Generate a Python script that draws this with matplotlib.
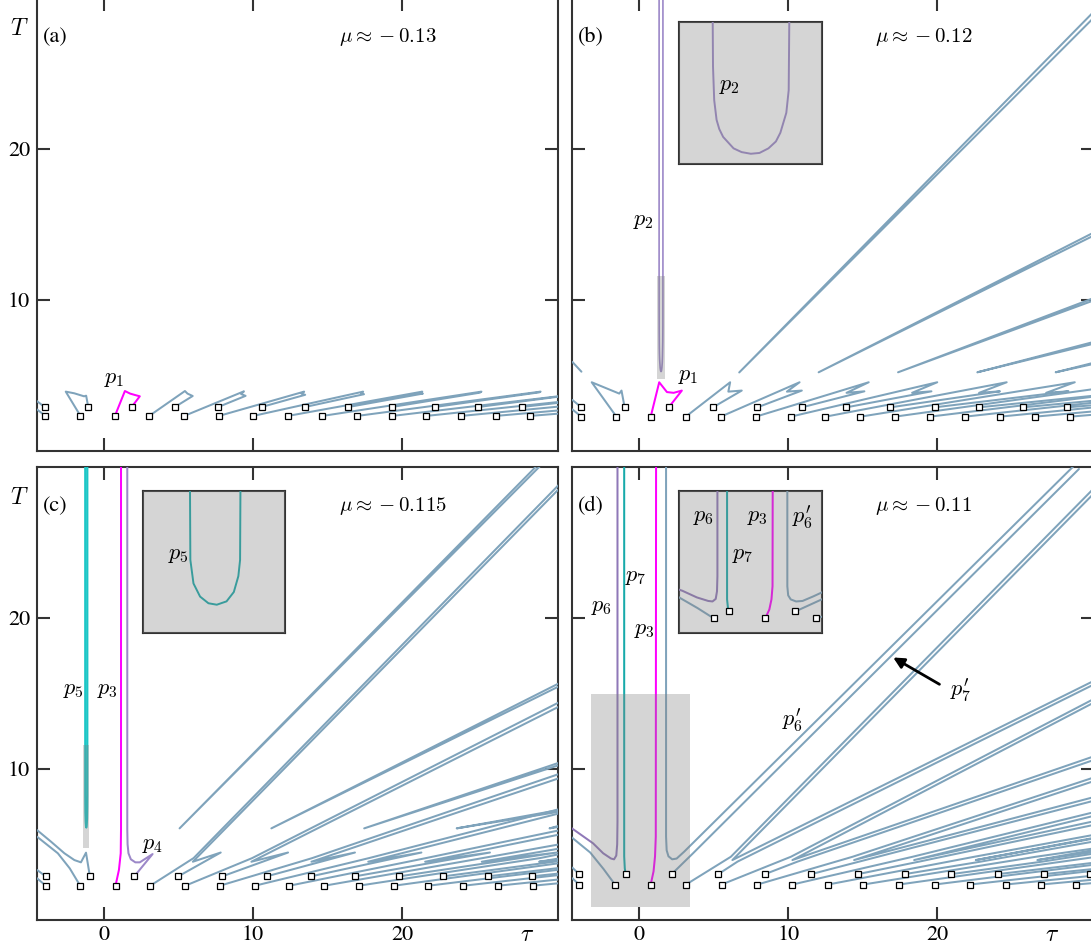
import matplotlib
matplotlib.use('Agg')
import matplotlib.pyplot as plt
import matplotlib.transforms as mtrans
from matplotlib.patches import Rectangle

plt.rcParams['font.family'] = 'STIXGeneral'
plt.rcParams['mathtext.fontset'] = 'cm'

BLUE = '#7fa3bb'
MAGENTA = '#ff00ff'
PURPLE = '#9c88c8'
CYAN = '#1cc6c6'
TEAL = '#17aaaa'
fonte = 16
LW = 1.45

# ---------------- panel (a), mu ~ -0.13 ----------------
a_lowT, a_upT = 2.32, 2.91
a_lower = [-3.93, -1.58, 0.73, 3.03, 5.38, 7.71, 10.01, 12.34, 14.66, 16.99, 19.34, 21.62, 23.97, 26.28, 28.58]
a_upper = [-3.99, -1.06, 1.85, 4.75, 7.66, 10.57, 13.48, 16.39, 19.30, 22.20, 25.11, 28.02, 30.93, 33.84, 36.75]
# inner points of each branch lower[i] -> ... -> upper[i], i = 1..14
a_mid = [
    [(-2.57, 3.93), (-2.0, 3.82), (-1.34, 3.62), (-1.2, 3.66)],
    [(1.4, 3.97), (1.75, 3.8), (2.1, 3.7), (2.4, 3.62)],
    [(5.43, 3.97), (5.6, 3.8), (5.95, 3.64)],
    [(9.39, 3.95), (9.2, 3.77), (9.5, 3.65)],
    [(13.43, 3.93), (13.25, 3.8), (13.5, 3.72)],
    [(17.39, 3.93), (17.25, 3.82), (17.45, 3.76)],
    [(21.36, 3.93), (21.22, 3.84), (21.4, 3.8)],
    [(25.33, 3.93), (25.22, 3.86)],
    [(29.3, 3.93), (29.2, 3.88)],
    [(33.3, 3.95)],
    [(37.3, 3.95)],
    [(41.2, 3.95)],
    [(45.2, 3.95)],
    [(49.2, 3.95)],
]
a_edge = [[(-4.5, 3.3), (-3.99, 2.91)], [(-4.5, 2.75), (-3.93, 2.32)]]

# ---------------- panel (b), mu ~ -0.12 ----------------
b_lowT, b_upT = 2.27, 2.89
b_lower = [-3.89, -1.54, 0.76, 3.11, 5.46, 7.81, 10.15, 12.48, 14.83, 17.13, 19.48, 21.83, 24.18, 26.53, 28.88]
b_upper = [-3.89, -0.99, 1.97, 4.94, 7.92, 10.91, 13.89, 16.85, 19.82, 22.79, 25.74, 28.72, 31.7, 34.7, 37.7]
b_mid = [
    [(-3.2, 4.55), (-1.35, 3.8), (-1.2, 4.0)],
    [(1.33, 4.55), (1.85, 3.9), (2.3, 3.85), (2.85, 4.0)],
    [(6.09, 4.55), (5.97, 3.93), (6.87, 4.0)],
    [(10.75, 4.55), (9.9, 3.93), (10.9, 4.0)],
    [(15.39, 4.55), (13.9, 3.85), (15.1, 3.95)],
    [(19.99, 4.55), (18.3, 3.85), (19.6, 3.95)],
    [(24.65, 4.55), (22.8, 3.85), (24.2, 3.95)],
    [(29.22, 4.55), (27.3, 3.85), (28.8, 3.95)],
    [(33.8, 4.55), (31.7, 3.85), (33.4, 3.95)],
    [(38.4, 4.55), (36.1, 3.85)],
    [(43.0, 4.55), (40.5, 3.85)],
    [(47.6, 4.55)],
    [(52.2, 4.55)],
    [(56.8, 4.55)],
]
b_edge = [[(-4.5, 3.38), (-3.89, 2.89)], [(-4.5, 2.75), (-3.89, 2.27)], [(-4.5, 5.9), (-3.89, 5.25)]]
b_ray_start = [(6.7, 5.2), (12.03, 5.21), (17.36, 5.21), (22.68, 5.21), (27.94, 5.21)]
b_ray_end = [(30.6, 29.0), (30.6, 14.42), (30.6, 10.09), (30.6, 7.19), (30.6, 5.83)]
b_ray_gap = [0.2, 0.1, 0.08, 0.06, 0.04]
p2 = [(1.323, 30), (1.323, 11.6), (1.324, 9.45), (1.328, 7.84), (1.336, 6.89), (1.345, 6.45),
      (1.358, 6.07), (1.393, 5.52), (1.42, 5.34), (1.451, 5.26), (1.48, 5.3), (1.51, 5.52),
      (1.535, 5.85), (1.55, 6.27), (1.57, 7.23), (1.578, 8.32), (1.58, 11.6), (1.58, 30)]
b_zoom = [(1.21, 1.69), (4.77, 11.6)]

# ---------------- panel (c), mu ~ -0.115 ----------------
c_lowT, c_upT = 2.25, 2.87
c_lower = [-3.91, -1.6, 0.77, 3.1, 5.45, 7.77, 10.12, 12.43, 14.78, 17.08, 19.45, 21.76, 24.11, 26.43, 28.76]
c_upper = [-3.91, -0.95, 2.03, 4.98, 7.93, 10.91, 13.88, 16.83, 19.81, 22.77, 25.74, 28.71, 31.7, 34.6, 37.6]
c_tip = [5.96, 9.89, 13.92, 17.73, 21.55, 25.35, 29.2, 33.0, 36.8, 40.6, 44.4, 48.2]     # folds i = 3..14
c_hook = [7.83, 12.35, 16.84, 21.3, 25.9, 30.4, 34.9, 39.4, 43.9, 48.4, 52.9, 57.4]
c_far = [28.5, 14.1, 9.36, 7.03, 5.63, 4.7, 4.05]
c_ray_start = [(5.07, 6.05), (11.23, 6.05), (17.46, 6.05), (23.67, 6.05), (29.9, 6.05)]
c_ray_end = [(29.3, 30.2), (30.6, 15.59), (30.6, 10.34), (30.6, 7.22), (30.6, 6.2)]
c_ray_gap = [0.12, 0.1, 0.08, 0.06, 0.04]
c_edge = [[(-4.5, 3.3), (-3.91, 2.87)], [(-4.5, 2.75), (-3.91, 2.25)],
          [(-4.5, 5.94), (-3.56, 5.17), (-2.66, 4.4), (-1.99, 3.95), (-1.55, 3.8), (-1.21, 4.44), (-0.95, 2.87)],
          [(-4.5, 5.5), (-3.1, 4.4), (-2.3, 3.4), (-1.6, 2.25)]]
c_p3 = [(0.77, 2.25), (1.0, 3.3), (1.12, 4.4), (1.14, 6.0), (1.14, 30)]
c_p4 = [(1.56, 30), (1.56, 6.0), (1.58, 5.0), (1.64, 4.4), (1.8, 4.0), (2.1, 3.8), (2.4, 3.8), (3.26, 4.35), (2.03, 2.87)]
p5 = [(-1.264, 30), (-1.264, 11.57), (-1.263, 8.25), (-1.254, 7.12), (-1.235, 6.49), (-1.211, 6.17),
      (-1.187, 6.10), (-1.159, 6.26), (-1.138, 6.71), (-1.125, 7.47), (-1.12, 8.25), (-1.119, 11.57), (-1.119, 30)]
c_zoom = [(-1.40, -0.99), (4.73, 11.57)]

# ---------------- panel (d), mu ~ -0.11 ----------------
d_lowT, d_upT = 2.33, 3.02
d_lower = [-4.05, -1.64, 0.76, 3.13, 5.52, 7.92, 10.27, 12.66, 15.03, 17.42, 19.81, 22.19, 24.58, 26.95, 29.3]
d_upper = [-4.05, -0.92, 2.17, 5.3, 8.43, 11.54, 14.67, 17.81, 20.94, 24.07, 27.15, 30.22, 33.3, 36.4]
d_tip = [6.24, 10.27, 14.41, 18.44, 22.58, 26.71, 30.8, 34.9, 39.0, 43.1, 47.2, 51.3]   # tips i = 3..14
d_arm_up = [28.4, 14.5, 9.3, 7.0, 5.5, 4.6]     # T at the right edge, steeper arm of each tip
d_arm_low = [15.7, 10.7, 8.0, 6.4, 5.3, 4.5]    # T at the right edge, flatter arm
d_edge = [[(-4.5, 3.45), (-4.05, 3.02)], [(-4.5, 2.75), (-4.05, 2.33)],
          [(-4.6, 5.5), (-3.3, 4.45), (-2.4, 3.35), (-1.64, 2.33)]]
d_p6 = [(-4.6, 6.1), (-3.11, 5.06), (-2.43, 4.4), (-1.9, 4.05), (-1.7, 4.0), (-1.55, 4.25),
        (-1.49, 5.0), (-1.47, 6.5), (-1.47, 30)]
d_p7 = [(-1.02, 30), (-1.02, 4.2), (-0.98, 3.4), (-0.92, 3.02)]
d_p3 = [(1.12, 30), (1.1, 5.5), (1.05, 4.2), (0.95, 3.2), (0.76, 2.33)]
d_p6b = [(1.79, 30), (1.79, 5.5), (1.83, 4.6), (1.95, 4.2), (2.2, 4.0), (2.5, 4.05), (3.0, 4.5), (29.1, 30.0)]
d_up2 = [(2.17, 3.02), (3.6, 4.4), (29.5, 29.85)]
d_zoom = [(-3.26, 3.39), (0.86, 14.93)]


def linha(ax, pts, cor=BLUE, lw=LW, z=3):
    t = [p[0] for p in pts]
    T = [p[1] for p in pts]
    ax.plot(t, T, color=cor, lw=lw, zorder=z, solid_joinstyle='round', solid_capstyle='round')


def marcadores(ax, lower, lowT, upper, upT):
    for xs, y in ((lower, lowT), (upper, upT)):
        ax.plot(xs, [y] * len(xs), 's', ms=4, mfc='white', mec='black', mew=0.9, zorder=7)


def ramos(ax, lower, lowT, upper, upT, mids):
    # each branch leaves lower[i], turns and comes back to upper[i]
    for k, mid in enumerate(mids):
        i = k + 1
        pts = [(lower[i], lowT)] + mid + [(upper[i], upT)]
        linha(ax, pts, MAGENTA if i == 2 else BLUE)


def raios(ax, starts, ends, gaps):
    for s, e, g in zip(starts, ends, gaps):
        linha(ax, [(e[0], e[1] + g), s, (e[0], e[1] - g)])


def dobras(ax, lower, lowT, upper, upT, first, tips, tipT, hooks, hookT, fars, xr):
    for k, tip in enumerate(tips):
        i = first + k
        far = fars[k] if k < len(fars) else None
        outer = [(lower[i], lowT), (tip + 0.05, tipT + 0.24)]
        inner = [(tip, tipT)]
        if far is not None:
            outer.append((xr, far + 0.28))
            inner.insert(0, (xr, far))
        inner.append((hooks[k], hookT))
        if i < len(upper):
            inner.append((upper[i], upT))
        linha(ax, outer)
        linha(ax, inner)


def garfos(ax, lower, lowT, upper, upT, first, tips, tipT, ups, lows, xr):
    # "<" shaped tips: a steep double arm and a flatter double arm
    for k, tip in enumerate(tips):
        i = first + k
        if k < len(ups):
            g_up = 0.17 if k == 0 else 0.12
            g_low = 0.12
            linha(ax, [(lower[i], lowT), (tip - 0.1, tipT + 0.22), (xr, ups[k] + g_up)])
            linha(ax, [(xr, ups[k] - g_up), (tip, tipT), (xr, lows[k] + g_low)])
            linha(ax, [(upper[i], upT), (tip + 0.35, tipT - 0.1), (xr, lows[k] - g_low)])
        else:
            linha(ax, [(lower[i], lowT), (tip - 0.1, tipT + 0.22)])
            if i < len(upper):
                linha(ax, [(upper[i], upT), (tip + 0.35, tipT - 0.1)])


def sombra(ax, zoom):
    (x0, x1), (y0, y1) = zoom
    ax.add_patch(Rectangle((x0, y0), x1 - x0, y1 - y0, facecolor='gray', alpha=0.33, lw=0, zorder=5))


def desenha_a(ax):
    for e in a_edge:
        linha(ax, e)
    ramos(ax, a_lower, a_lowT, a_upper, a_upT, a_mid)
    marcadores(ax, a_lower, a_lowT, a_upper, a_upT)


def desenha_b(ax):
    for e in b_edge:
        linha(ax, e)
    ramos(ax, b_lower, b_lowT, b_upper, b_upT, b_mid)
    raios(ax, b_ray_start, b_ray_end, b_ray_gap)
    linha(ax, p2, PURPLE, lw=1.2)
    marcadores(ax, b_lower, b_lowT, b_upper, b_upT)


def desenha_c(ax):
    for e in c_edge:
        linha(ax, e)
    dobras(ax, c_lower, c_lowT, c_upper, c_upT, 3, c_tip, 3.84, c_hook, 4.45, c_far, 30.5)
    raios(ax, c_ray_start, c_ray_end, c_ray_gap)
    linha(ax, c_p4, PURPLE)
    linha(ax, c_p3, MAGENTA)
    linha(ax, p5, CYAN, lw=1.5)
    marcadores(ax, c_lower, c_lowT, c_upper, c_upT)


def desenha_d(ax):
    for e in d_edge:
        linha(ax, e)
    garfos(ax, d_lower, d_lowT, d_upper, d_upT, 3, d_tip, 3.95, d_arm_up, d_arm_low, 30.5)
    linha(ax, d_p6b)
    linha(ax, d_up2)
    linha(ax, d_p6, '#8f78b8')
    linha(ax, d_p3, MAGENTA)
    linha(ax, d_p7, TEAL)
    marcadores(ax, d_lower, d_lowT, d_upper, d_upT)


def eixo(fig, rect, left, bottom):
    ax = fig.add_axes(rect)
    ax.set_xlim(-4.5, 30.5)
    ax.set_ylim(0, 30)
    ax.set_xticks([0, 10, 20])
    ax.set_yticks([10, 20])
    ax.tick_params(direction='in', length=9.5, width=1.5, top=True, right=True,
                   labelsize=fonte, color='#333333', pad=4)
    ax.tick_params(axis='y', pad=5)
    if not left:
        ax.set_yticklabels([])
    if not bottom:
        ax.set_xticklabels([])
    for s in ax.spines.values():
        s.set_linewidth(1.5)
        s.set_color('#333333')
    if left:
        ax.text(-0.033, 0.93, '$T$', transform=ax.transAxes, ha='center', va='center', fontsize=17)
    return ax


def inset(fig, rect, zoom):
    ins = fig.add_axes(rect)
    ins.set_xlim(*zoom[0])
    ins.set_ylim(*zoom[1])
    ins.set_xticks([])
    ins.set_yticks([])
    for s in ins.spines.values():
        s.set_linewidth(1.5)
        s.set_color('#333333')
    ins.add_patch(Rectangle((0, 0), 1, 1, transform=ins.transAxes, facecolor='gray',
                            alpha=0.33, lw=0, zorder=5))
    return ins


def rotulo(ax, letra, mu):
    ax.text(0.0115, 0.913, letra, transform=ax.transAxes, ha='left', va='center', fontsize=fonte)
    ax.text(0.58, 0.913, mu, transform=ax.transAxes, ha='left', va='center', fontsize=15)


fig = plt.figure(figsize=(10.91, 9.51), dpi=100)
W, H = 0.478, 0.4763

ax_a = eixo(fig, [0.0339, 0.5258, W, H], True, False)
ax_b = eixo(fig, [0.5246, 0.5258, W, H], False, False)
ax_c = eixo(fig, [0.0339, 0.0329, W, H], True, True)
ax_d = eixo(fig, [0.5246, 0.0329, W, H], False, True)

desenha_a(ax_a)
rotulo(ax_a, '(a)', r'$\mu \approx -0.13$')
ax_a.text(0.0, 4.75, '$p_1$', fontsize=fonte, ha='left', va='center', zorder=8)

desenha_b(ax_b)
sombra(ax_b, b_zoom)
rotulo(ax_b, '(b)', r'$\mu \approx -0.12$')
ax_b.text(2.57, 4.95, '$p_1$', fontsize=fonte, ha='left', va='center', zorder=8)
ax_b.text(-0.45, 15.2, '$p_2$', fontsize=fonte, ha='left', va='center', zorder=8)

desenha_c(ax_c)
sombra(ax_c, c_zoom)
rotulo(ax_c, '(c)', r'$\mu \approx -0.115$')
ax_c.text(-2.78, 15.2, '$p_5$', fontsize=fonte, ha='left', va='center', zorder=8)
ax_c.text(-0.46, 15.2, '$p_3$', fontsize=fonte, ha='left', va='center', zorder=8)
ax_c.text(2.56, 4.95, '$p_4$', fontsize=fonte, ha='left', va='center', zorder=8)

desenha_d(ax_d)
sombra(ax_d, d_zoom)
rotulo(ax_d, '(d)', r'$\mu \approx -0.11$')
ax_d.text(-0.99, 22.7, '$p_7$', fontsize=fonte, ha='left', va='center', zorder=8)
ax_d.text(-3.22, 20.7, '$p_6$', fontsize=fonte, ha='left', va='center', zorder=8)
ax_d.text(-0.38, 19.2, '$p_3$', fontsize=fonte, ha='left', va='center', zorder=8)
ax_d.text(9.6, 13.2, "$p_6'$", fontsize=fonte, ha='left', va='center', zorder=8)
ax_d.text(20.85, 15.2, "$p_7'$", fontsize=fonte, ha='left', va='center', zorder=8)
ax_d.annotate('', xy=(16.87, 17.46), xytext=(20.3, 15.5),
              arrowprops=dict(arrowstyle='-|>', color='black', lw=2, mutation_scale=16), zorder=8)

for ax, xt in ((ax_c, 28.36), (ax_d, 27.7)):
    tr = mtrans.blended_transform_factory(ax.transData, ax.transAxes)
    ax.text(xt, -0.035, r'$\tau$', transform=tr, ha='center', va='center', fontsize=17)

# insets (zoom of the gray rectangles)
ins_b = inset(fig, [0.6224, 0.8276, 0.1311, 0.1493], b_zoom)
linha(ins_b, p2, PURPLE, lw=1.4)
ins_b.text(0.28, 0.55, '$p_2$', transform=ins_b.transAxes, fontsize=fonte, va='center', zorder=8)

ins_c = inset(fig, [0.1308, 0.3341, 0.1307, 0.1499], c_zoom)
linha(ins_c, p5, TEAL, lw=1.4)
ins_c.text(0.18, 0.55, '$p_5$', transform=ins_c.transAxes, fontsize=fonte, va='center', zorder=8)

ins_d = inset(fig, [0.6224, 0.3341, 0.1307, 0.1499], d_zoom)
desenha_d(ins_d)
ins_d.text(0.10, 0.815, '$p_6$', transform=ins_d.transAxes, fontsize=fonte, va='center', zorder=8)
ins_d.text(0.476, 0.815, '$p_3$', transform=ins_d.transAxes, fontsize=fonte, va='center', zorder=8)
ins_d.text(0.79, 0.815, "$p_6'$", transform=ins_d.transAxes, fontsize=fonte, va='center', zorder=8)
ins_d.text(0.37, 0.55, '$p_7$', transform=ins_d.transAxes, fontsize=fonte, va='center', zorder=8)

fig.savefig('out.png', dpi=100)
